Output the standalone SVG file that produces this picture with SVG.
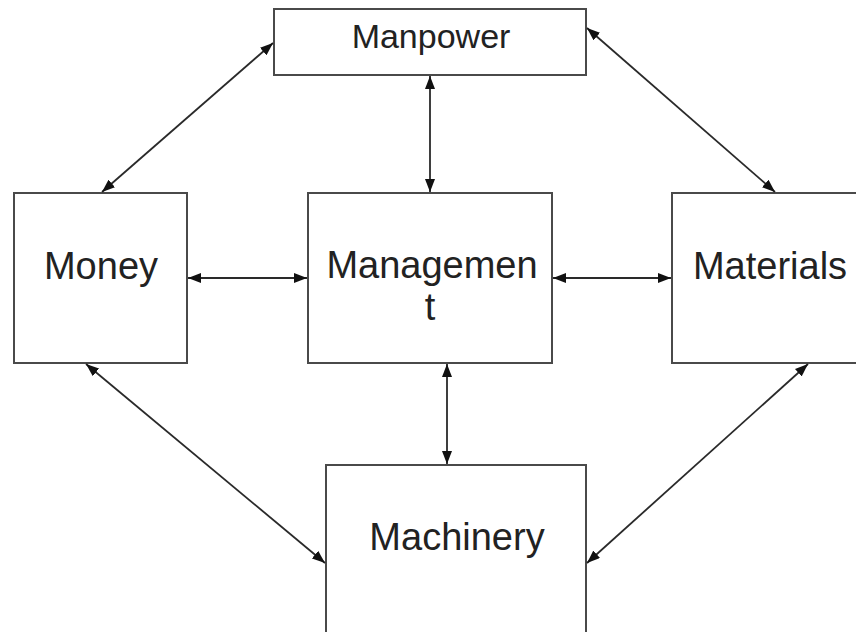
<svg xmlns="http://www.w3.org/2000/svg" width="856" height="632" viewBox="0 0 856 632">
  <style>
    .box { fill: #ffffff; stroke: #4a4a4a; stroke-width: 2; }
    .lbl { font-family: "Liberation Sans", Arial, sans-serif; font-size: 38px; fill: #222222; text-anchor: middle; }
    .conn { stroke: #2a2a2a; stroke-width: 1.8; fill: none; marker-start: url(#ah); marker-end: url(#ah); }
  </style>
  <defs>
    <marker id="ah" viewBox="0 0 13 10" refX="13" refY="5" markerWidth="13" markerHeight="10" markerUnits="userSpaceOnUse" orient="auto-start-reverse">
      <path d="M0,0 L13,5 L0,10 Z" fill="#111111"/>
    </marker>
  </defs>
  <rect width="856" height="632" fill="#ffffff"/>
  <g id="manpower">
    <rect class="box" x="274" y="9" width="312" height="66"/>
    <text class="lbl" x="431" y="48" style="font-size:34px">Manpower</text>
  </g>
  <g id="money">
    <rect class="box" x="14" y="193" width="173" height="170"/>
    <text class="lbl" x="101" y="279">Money</text>
  </g>
  <g id="management">
    <rect class="box" x="308" y="193" width="244" height="170"/>
    <text class="lbl" x="432" y="278">Managemen</text>
    <text class="lbl" x="430" y="320">t</text>
  </g>
  <g id="materials">
    <rect class="box" x="672" y="193" width="200" height="170"/>
    <text class="lbl" x="770" y="279">Materials</text>
  </g>
  <g id="machinery">
    <rect class="box" x="326" y="465" width="260" height="180"/>
    <text class="lbl" x="457" y="550">Machinery</text>
  </g>
  <g id="connectors">
    <line class="conn" x1="430" y1="76" x2="430" y2="192"/>
    <line class="conn" x1="188" y1="278" x2="307" y2="278"/>
    <line class="conn" x1="553" y1="278" x2="671" y2="278"/>
    <line class="conn" x1="447" y1="364" x2="447" y2="464"/>
    <line class="conn" x1="102" y1="192" x2="273" y2="43"/>
    <line class="conn" x1="587" y1="28" x2="775" y2="192"/>
    <line class="conn" x1="86" y1="364" x2="325" y2="563"/>
    <line class="conn" x1="808" y1="364" x2="587" y2="563"/>
  </g>
</svg>
